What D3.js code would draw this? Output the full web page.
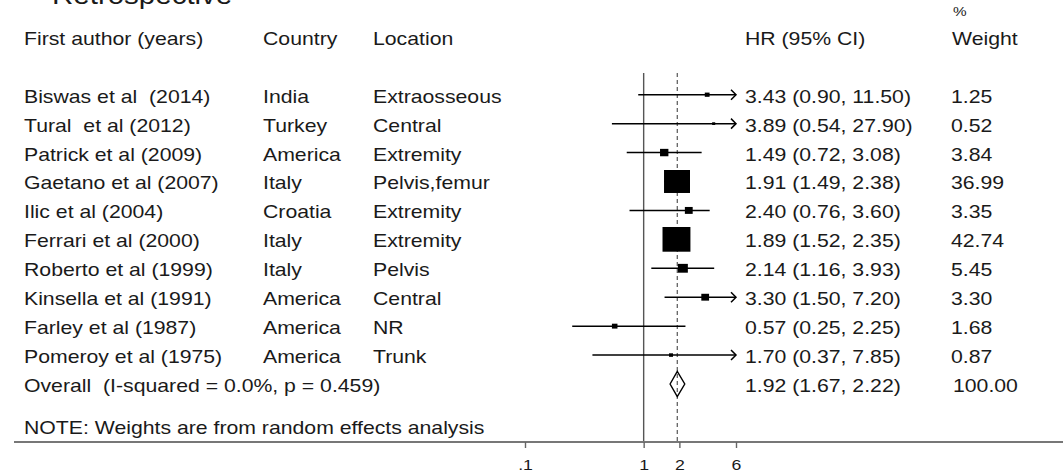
<!DOCTYPE html>
<html>
<head>
<meta charset="utf-8">
<script src="https://cdn.jsdelivr.net/npm/d3@7"></script>
<style>
  body { margin: 0; background: #fff; }
  text { font-family: "Liberation Sans", Arial, sans-serif; fill: #1a1a1a; white-space: pre; }
</style>
</head>
<body>
<svg id="chart" width="1063" height="472"></svg>
<script>
// study rows
var authors = ["Biswas et al  (2014)", "Tural  et al (2012)", "Patrick et al (2009)", "Gaetano et al (2007)",
  "Ilic et al (2004)", "Ferrari et al (2000)", "Roberto et al (1999)", "Kinsella et al (1991)",
  "Farley et al (1987)", "Pomeroy et al (1975)"];
var countries = ["India", "Turkey", "America", "Italy", "Croatia", "Italy", "Italy", "America", "America", "America"];
var locations = ["Extraosseous", "Central", "Extremity", "Pelvis,femur", "Extremity", "Extremity", "Pelvis", "Central", "NR", "Trunk"];
var hr = [3.43, 3.89, 1.49, 1.91, 2.40, 1.89, 2.14, 3.30, 0.57, 1.70];
var lower = [0.90, 0.54, 0.72, 1.49, 0.76, 1.52, 1.16, 1.50, 0.25, 0.37];
var upper = [11.50, 27.90, 3.08, 2.38, 3.60, 2.35, 3.93, 7.20, 2.25, 7.85];
var weights = [1.25, 0.52, 3.84, 36.99, 3.35, 42.74, 5.45, 3.30, 1.68, 0.87];

// pooled estimate
var overallHr = 1.92, overallLo = 1.67, overallHi = 2.22, overallWeight = 100;
var overallLabel = "Overall  (I-squared = 0.0%, p = 0.459)";

var headers = ["First author (years)", "Country", "Location", "HR (95% CI)", "Weight"];
var axisTicks = [0.1, 1, 2, 6];
var tickLabels = [".1", "1", "2", "6"];

var svg = d3.select("#chart");
var stretch = 1.18; // the source picture is a bit wider than tall

var x = d3.scaleLog().domain([0.1, 6]).range([525, 736]);
var xMax = 6;
var rowY = function(i) { return 94.7 + i * 28.93; };

// draw text a little stretched sideways, like the source
function txt(px, py, s, size) {
  return svg.append("text")
    .attr("transform", "translate(" + px + "," + py + ") scale(" + stretch + ",1)")
    .style("font-size", (size || 18) + "px")
    .text(s);
}

var f2 = d3.format(".2f");

// title, clipped at the top
txt(52, 4, "Retrospective", 25);

// header
var colX = [24, 263, 373, 745, 952];
headers.forEach(function(h, i) { txt(colX[i], 45, h); });
txt(953, 16, "%", 13);

// reference lines
var lineTop = 73, axisY = 442;
svg.append("line")
  .attr("x1", x(1)).attr("x2", x(1))
  .attr("y1", lineTop).attr("y2", axisY)
  .attr("stroke", "#555").attr("stroke-width", 1.4);
svg.append("line")
  .attr("x1", x(overallHr)).attr("x2", x(overallHr))
  .attr("y1", lineTop).attr("y2", axisY)
  .attr("stroke", "#555").attr("stroke-width", 1.2)
  .attr("stroke-dasharray", "4,3");

// study rows
authors.forEach(function(a, i) {
  var y = rowY(i);
  txt(colX[0], y + 8, a);
  txt(colX[1], y + 8, countries[i]);
  txt(colX[2], y + 8, locations[i]);
  txt(colX[3], y + 8, f2(hr[i]) + " (" + f2(lower[i]) + ", " + f2(upper[i]) + ")");
  txt(colX[4] - 1, y + 8, f2(weights[i]));

  var hiX = x(Math.min(upper[i], xMax));
  svg.append("line")
    .attr("x1", x(lower[i])).attr("x2", hiX)
    .attr("y1", y).attr("y2", y)
    .attr("stroke", "#000").attr("stroke-width", 1.5);
  if (upper[i] > xMax) {
    svg.append("path")
      .attr("d", "M" + (hiX - 5) + "," + (y - 5) + "L" + hiX + "," + y + "L" + (hiX - 5) + "," + (y + 5))
      .attr("fill", "none").attr("stroke", "#000").attr("stroke-width", 1.5);
  }
  var w = 4.27 * Math.sqrt(weights[i]);
  var h = w / 1.13;
  svg.append("rect")
    .attr("x", x(hr[i]) - w / 2).attr("y", y - h / 2)
    .attr("width", w).attr("height", h)
    .attr("fill", "#000");
});

// overall row
var oy = rowY(10);
txt(colX[0], oy + 8, overallLabel);
txt(colX[3], oy + 8, f2(overallHr) + " (" + f2(overallLo) + ", " + f2(overallHi) + ")");
txt(colX[4] + 1, oy + 8, f2(overallWeight));
svg.append("path")
  .attr("d", "M" + x(overallLo) + "," + oy + "L" + x(overallHr) + "," + (oy - 12.5) +
    "L" + x(overallHi) + "," + oy + "L" + x(overallHr) + "," + (oy + 12.5) + "Z")
  .attr("fill", "none").attr("stroke", "#000").attr("stroke-width", 1.4);

txt(colX[0], 434, "NOTE: Weights are from random effects analysis");

// x axis
svg.append("line")
  .attr("x1", 14).attr("x2", 1063)
  .attr("y1", axisY).attr("y2", axisY)
  .attr("stroke", "#777").attr("stroke-width", 2);
var axis = d3.axisBottom(x).tickValues(axisTicks)
  .tickFormat(function(d, i) { return tickLabels[i]; })
  .tickSize(6).tickPadding(6);
var ag = svg.append("g").attr("transform", "translate(0," + axisY + ")").call(axis);
ag.select(".domain").remove();
ag.selectAll(".tick line").attr("stroke", "#666").attr("stroke-width", 1.4);
ag.selectAll(".tick text")
  .attr("y", 0).attr("dy", 0)
  .attr("transform", "translate(0,28) scale(" + stretch + ",1)")
  .style("font-size", "15px").style("font-family", "Liberation Sans, Arial, sans-serif")
  .attr("fill", "#1a1a1a");
</script>
</body>
</html>
